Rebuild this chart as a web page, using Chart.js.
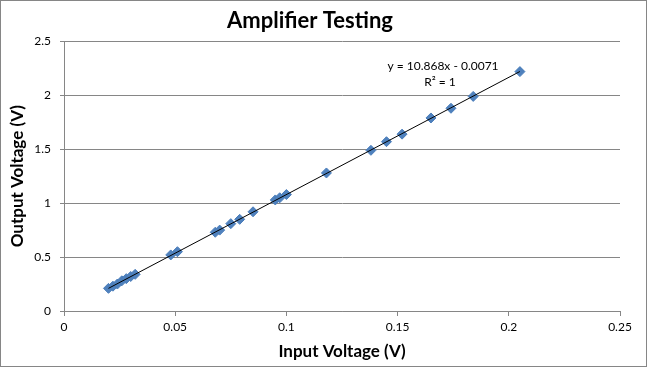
<!DOCTYPE html>
<html>
<head>
<meta charset="utf-8">
<script src="https://cdn.jsdelivr.net/npm/chart.js@4"></script>
<style>
  html, body { margin: 0; padding: 0; background: #fff; }
  #wrap { width: 647px; height: 367px; position: relative; }
</style>
</head>
<body>
<div id="wrap"><canvas id="ampChart" width="647" height="367"></canvas></div>
<script>
// measured points, input voltage (V) vs output voltage (V)
const inputVolts = [0.020, 0.022, 0.024, 0.026, 0.028, 0.030, 0.032, 0.048, 0.051, 0.068, 0.070, 0.075, 0.079,
                    0.085, 0.095, 0.097, 0.100, 0.118, 0.138, 0.145, 0.152, 0.165, 0.174, 0.184, 0.205];
const outputVolts = [0.21, 0.23, 0.25, 0.28, 0.30, 0.32, 0.34, 0.52, 0.55, 0.73, 0.75, 0.81, 0.85,
                     0.92, 1.03, 1.05, 1.08, 1.28, 1.49, 1.57, 1.64, 1.79, 1.88, 1.99, 2.22];

// linear trendline end points
const trendX = [0.0200, 0.2050];
const trendY = [0.210, 2.221];
const trendLabel = ["y = 10.868x - 0.0071", "R² = 1"];

const xTicks = [0, 0.05, 0.1, 0.15, 0.2, 0.25];
const yTicks = [0, 0.5, 1, 1.5, 2, 2.5];

const FONT = "Lato, 'Open Sans', sans-serif";
const GRID = "#868686";

// frame round the whole chart + trendline equation
const frameAndLabel = {
    id: "frameAndLabel",
    afterDraw(chart) {
        const ctx = chart.ctx;
        ctx.save();
        ctx.strokeStyle = GRID;
        ctx.lineWidth = 1;
        ctx.strokeRect(0.5, 0.5, chart.width - 1, chart.height - 1);

        ctx.fillStyle = "#000";
        ctx.font = "12px " + FONT;
        ctx.textAlign = "center";
        ctx.textBaseline = "middle";
        ctx.fillText(trendLabel[0], 443, 66);
        ctx.fillText(trendLabel[1], 440, 82);
        ctx.restore();
    }
};

new Chart(document.getElementById("ampChart"), {
    type: "scatter",
    data: {
        datasets: [
            {
                label: "Output",
                data: inputVolts.map((x, i) => ({ x: x, y: outputVolts[i] })),
                pointStyle: "rectRot",
                pointRadius: 5,
                backgroundColor: "#4F81BD",
                borderColor: "#4A7DBA",
                borderWidth: 1,
                order: 1
            },
            {
                label: "Trend",
                data: trendX.map((x, i) => ({ x: x, y: trendY[i] })),
                type: "line",
                showLine: true,
                borderColor: "#000",
                borderWidth: 1,
                pointRadius: 0,
                fill: false,
                order: 0
            }
        ]
    },
    options: {
        responsive: false,
        animation: false,
        layout: { padding: { left: 0, right: 27, top: 4, bottom: 5 } },
        plugins: {
            legend: { display: false },
            tooltip: { enabled: false },
            title: {
                display: true,
                text: "Amplifier Testing",
                color: "#000",
                font: { family: FONT, size: 22, weight: "bold" },
                padding: { top: 4, bottom: 7 }
            }
        },
        scales: {
            x: {
                type: "linear",
                min: 0,
                max: 0.25,
                afterBuildTicks: (scale) => { scale.ticks = xTicks.map(v => ({ value: v })); },
                afterFit: (scale) => { scale.height = 51; },
                ticks: {
                    color: "#000",
                    font: { family: FONT, size: 12 },
                    padding: 4,
                    maxRotation: 0,
                    callback: (v) => String(v)
                },
                grid: { drawOnChartArea: false, color: GRID, tickLength: 5 },
                border: { color: GRID },
                title: {
                    display: true,
                    text: "Input Voltage (V)",
                    color: "#000",
                    font: { family: FONT, size: 17, weight: "bold" },
                    padding: { top: 2, bottom: 0 }
                }
            },
            y: {
                type: "linear",
                min: 0,
                max: 2.5,
                afterBuildTicks: (scale) => { scale.ticks = yTicks.map(v => ({ value: v })); },
                afterFit: (scale) => { scale.width = 64; },
                ticks: {
                    color: "#000",
                    font: { family: FONT, size: 12 },
                    padding: 9,
                    callback: (v) => String(v)
                },
                grid: { color: GRID, tickLength: 4 },
                border: { color: GRID },
                title: {
                    display: true,
                    text: "Output Voltage (V)",
                    color: "#000",
                    font: { family: FONT, size: 17, weight: "bold" },
                    padding: { top: 7, bottom: 0 }
                }
            }
        }
    },
    plugins: [frameAndLabel]
});
</script>
</body>
</html>
